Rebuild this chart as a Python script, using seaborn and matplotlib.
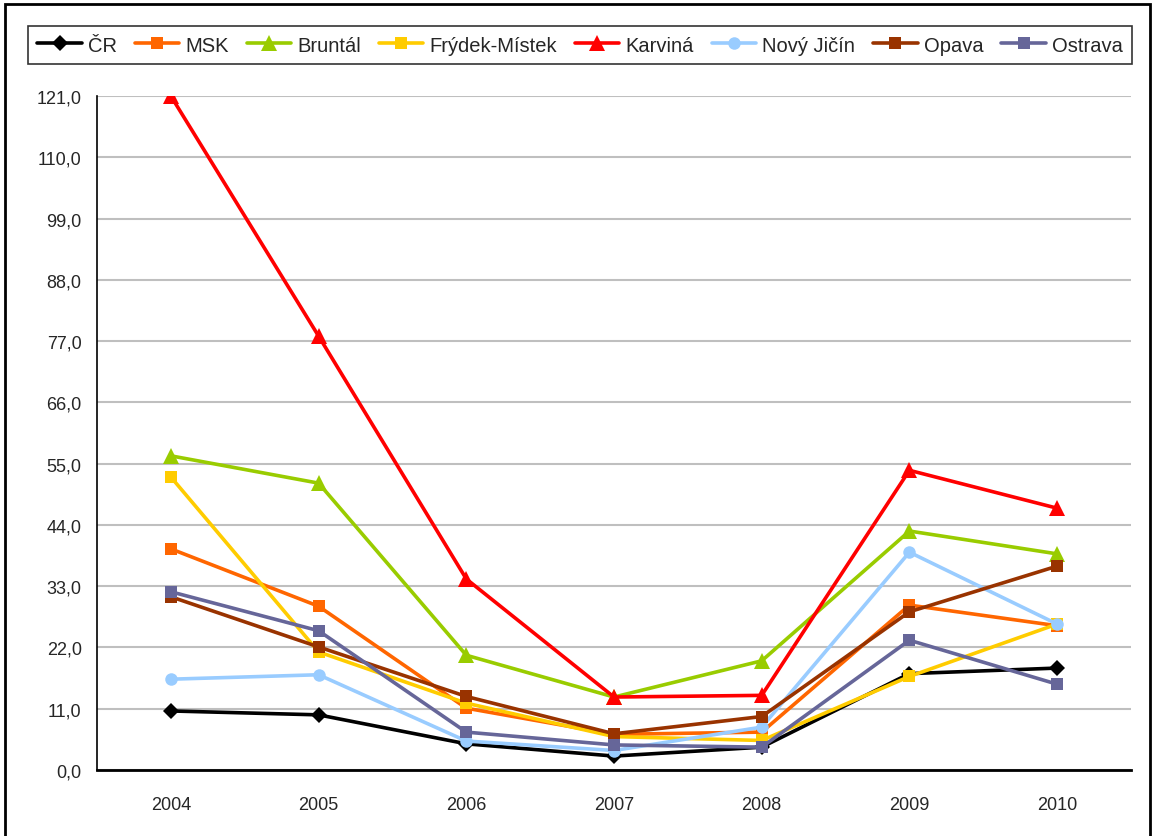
import numpy as np
import pandas as pd
import matplotlib.pyplot as plt
import seaborn as sns
from matplotlib.ticker import FixedLocator, FuncFormatter
from matplotlib.patches import Rectangle

years = ["2004", "2005", "2006", "2007", "2008", "2009", "2010"]
series = ["ČR", "MSK", "Bruntál", "Frýdek-Místek", "Karviná", "Nový Jičín", "Opava", "Ostrava"]

cr = [10.6, 9.9, 4.7, 2.5, 4.1, 17.3, 18.3]
msk = [39.7, 29.4, 11.1, 6.4, 6.8, 29.6, 25.9]
bruntal = [56.4, 51.5, 20.6, 13.1, 19.6, 42.9, 38.8]
frydek = [52.6, 21.2, 12.0, 6.0, 5.3, 16.8, 26.2]
karvina = [121.0, 77.9, 34.3, 13.1, 13.4, 53.8, 47.0]
novy_jicin = [16.3, 17.1, 5.2, 3.5, 7.7, 39.1, 26.2]
opava = [31.1, 22.1, 13.2, 6.5, 9.6, 28.4, 36.6]
ostrava = [32.0, 25.0, 6.8, 4.5, 4.1, 23.3, 15.4]

values = [cr, msk, bruntal, frydek, karvina, novy_jicin, opava, ostrava]
colors = ["#000000", "#FF6600", "#99CC00", "#FFCC00", "#FF0000", "#99CCFF", "#993300", "#666699"]
markers = ["D", "s", "^", "s", "^", "o", "s", "s"]

rows = []
for name, vals in zip(series, values):
    for i, v in enumerate(vals):
        rows.append({"rok": i, "serie": name, "hodnota": v})
df = pd.DataFrame(rows)

sns.set_style("white")
plt.rcParams["font.family"] = ["Liberation Sans", "DejaVu Sans"]

fig = plt.figure(figsize=(11.55, 8.37), dpi=100)
ax = fig.add_axes([97 / 1155, 1 - 771 / 837, (1131 - 97) / 1155, (771 - 97) / 837])

sns.lineplot(data=df, x="rok", y="hodnota", hue="serie", style="serie",
             hue_order=series, style_order=series,
             palette=dict(zip(series, colors)),
             markers=dict(zip(series, markers)), dashes=False,
             linewidth=2.6, markersize=9, markeredgewidth=0, ax=ax)

# triangles look small next to squares, make them a bit bigger
for ln in ax.lines:
    if ln.get_marker() == "^":
        ln.set_markersize(11)
    elif ln.get_marker() == "D":
        ln.set_markersize(8)

ax.set_xlim(-0.5, 6.5)
ax.set_ylim(0, 121)
yt = np.arange(0, 122, 11)
ax.yaxis.set_major_locator(FixedLocator(yt))
ax.yaxis.set_major_formatter(FuncFormatter(lambda v, p: f"{v:.1f}".replace(".", ",")))
ax.set_xticks(range(len(years)))
ax.set_xticklabels(years)
ax.xaxis.set_minor_locator(FixedLocator(np.arange(-0.5, 7, 1)))
ax.tick_params(axis="x", which="major", length=0, pad=19, labelsize=13)
ax.tick_params(axis="x", which="minor", length=5, width=1, color="black", direction="out")
ax.tick_params(axis="y", length=5, width=1, color="black", direction="out", labelsize=13, pad=6)
ax.yaxis.grid(True, color="#BFBFBF", linewidth=1.5)
ax.xaxis.grid(False)
ax.set_xlabel("")
ax.set_ylabel("")
for s in ["top", "right"]:
    ax.spines[s].set_visible(False)
ax.spines["left"].set_color("black")
ax.spines["bottom"].set_color("black")
ax.spines["left"].set_linewidth(1.2)
ax.spines["bottom"].set_linewidth(2)

handles, labels = ax.get_legend_handles_labels()
ax.get_legend().remove()
leg = fig.legend(handles, labels, loc="center", bbox_to_anchor=(580 / 1155, 1 - 46 / 837),
                 ncol=8, frameon=True, fontsize=14.5, handlelength=2.2, handletextpad=0.3,
                 columnspacing=0.9, borderpad=0.45, fancybox=False)
leg.get_frame().set_edgecolor("black")
leg.get_frame().set_linewidth(1.2)

fig.patches.append(Rectangle((5 / 1155, -0.01), 1 - 10 / 1155, 1 - 5 / 837 + 0.01,
                             transform=fig.transFigure, fill=False,
                             edgecolor="black", linewidth=2))

fig.savefig("out.png", dpi=100)
